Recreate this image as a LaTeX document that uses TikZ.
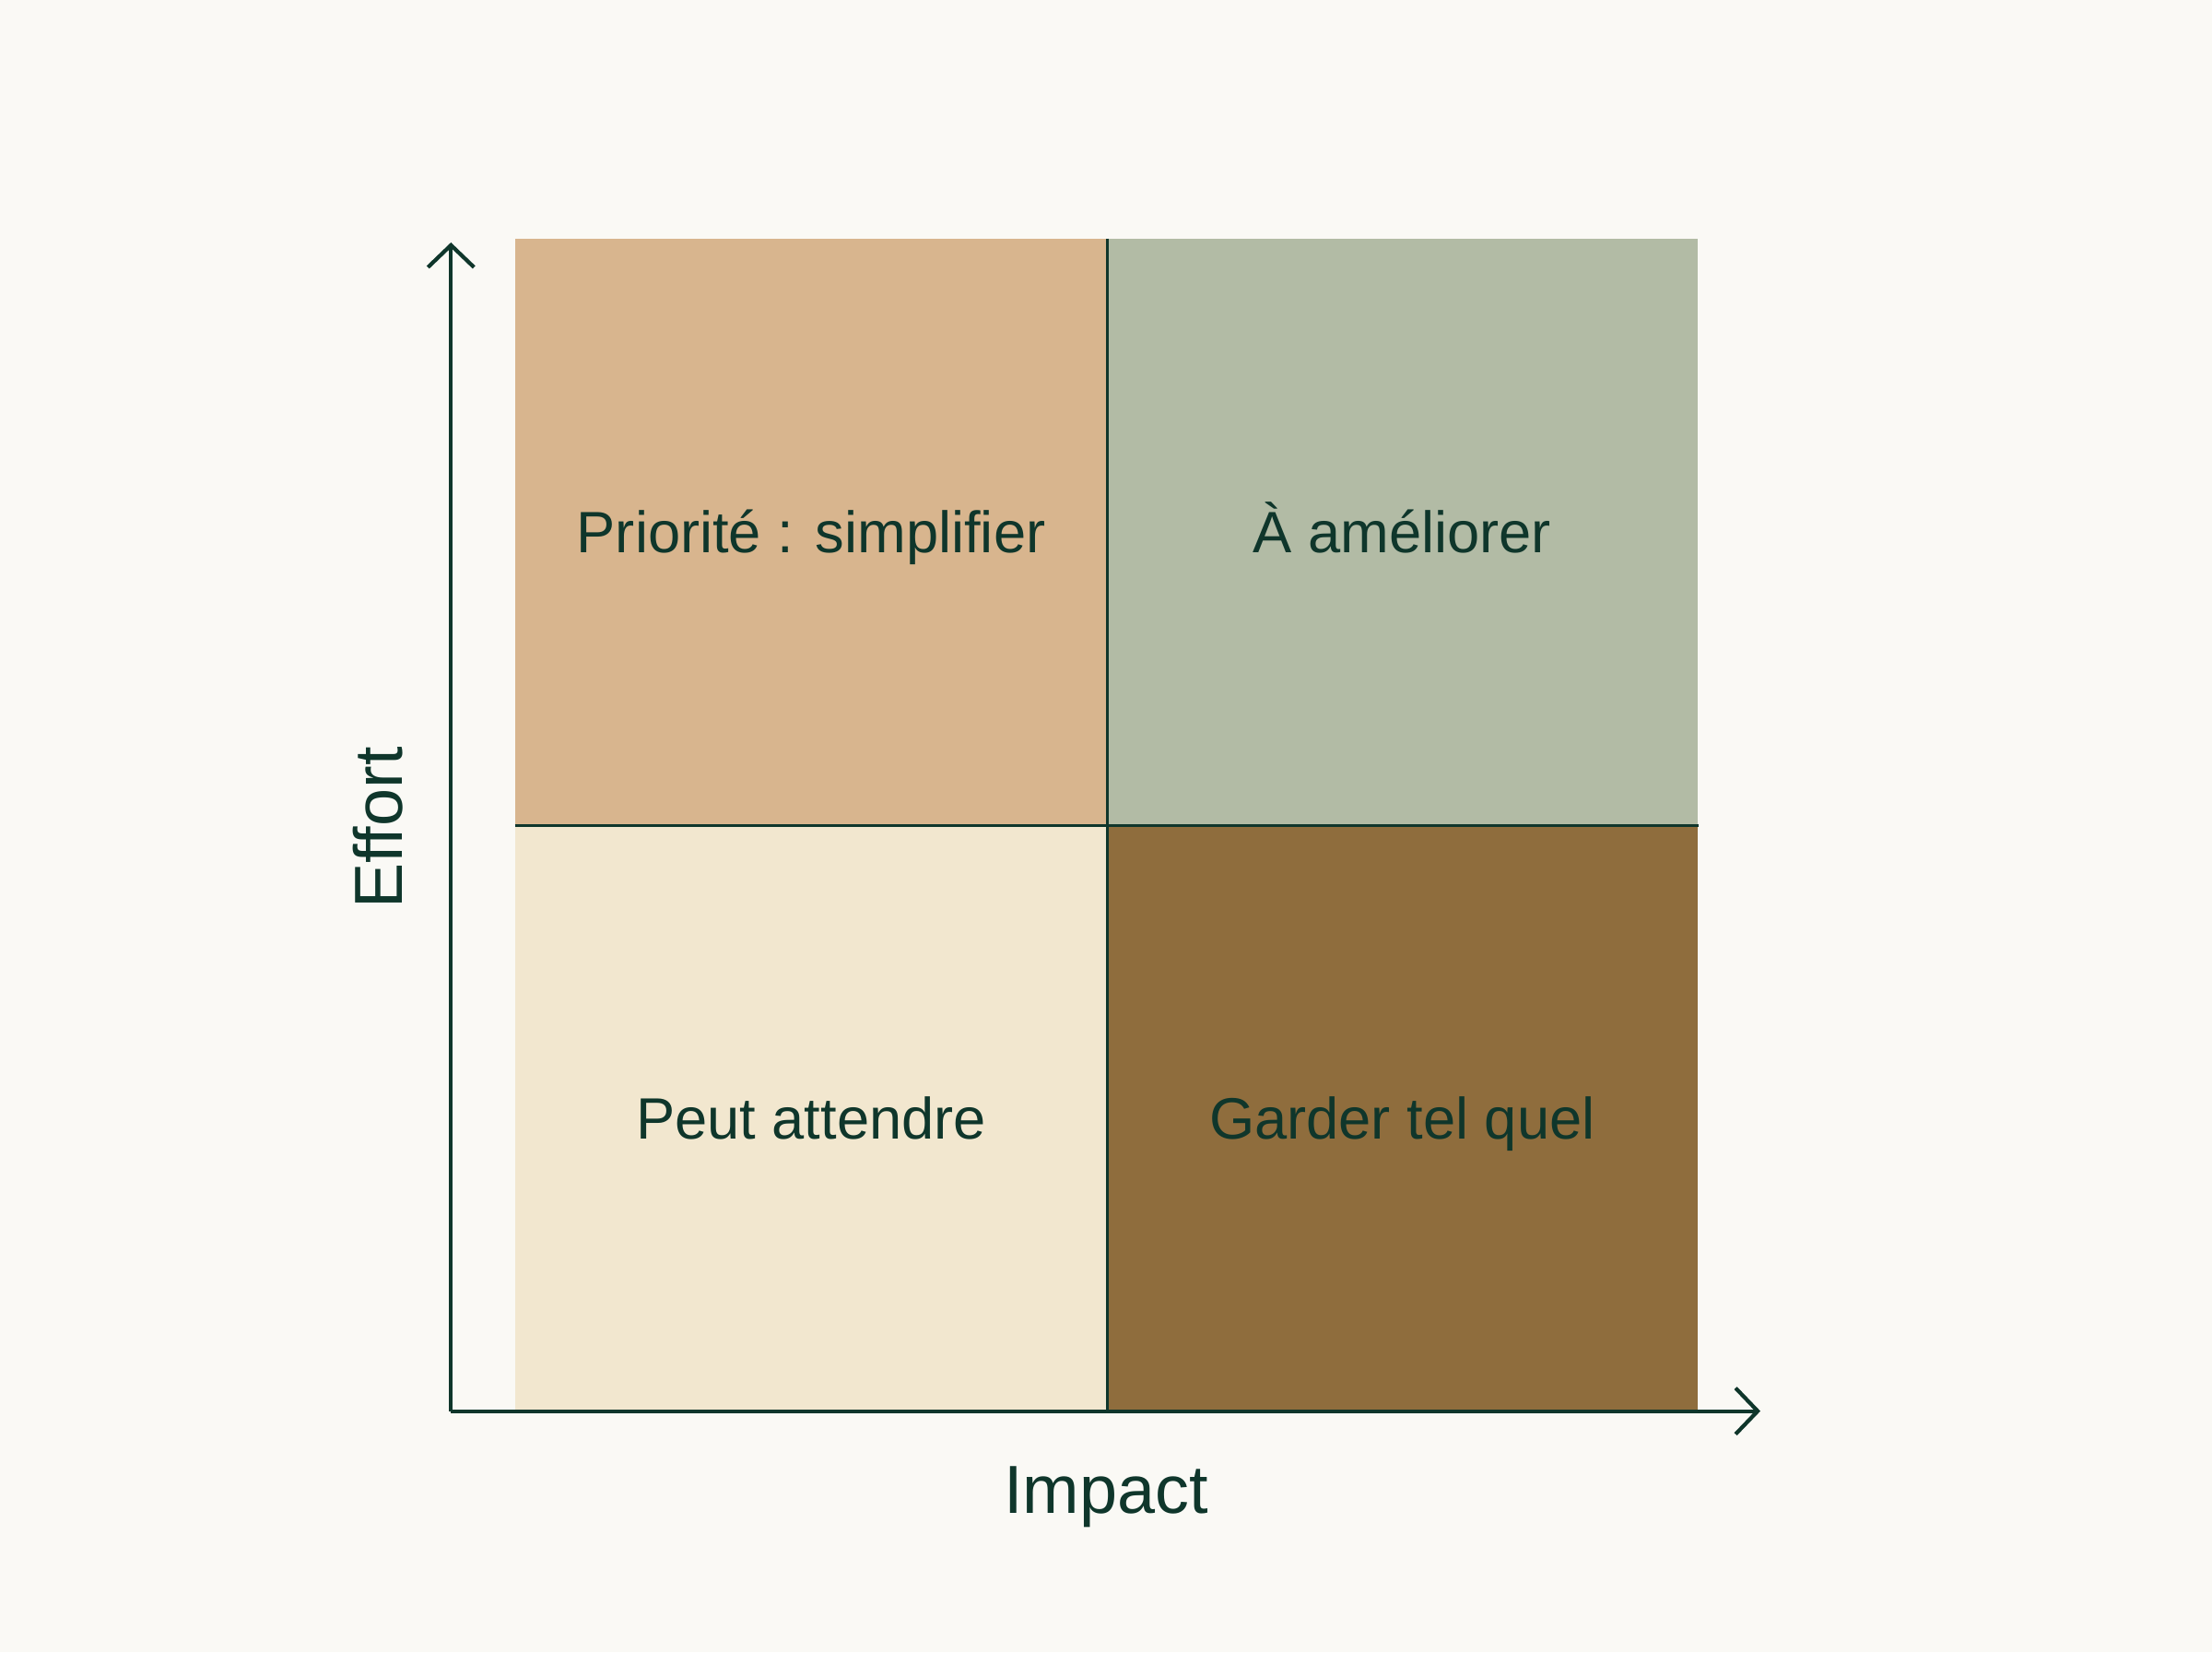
\documentclass[tikz,border=0pt]{standalone}
\usepackage{fontspec}
\setmainfont{Liberation Sans}
\usepackage{tikz}
\usetikzlibrary{arrows.meta}
\definecolor{paper}{HTML}{FAF9F5}
\definecolor{ink}{HTML}{0F362B}
\definecolor{tan}{HTML}{D8B58E}
\definecolor{sage}{HTML}{B2BBA5}
\definecolor{cream}{HTML}{F2E7CF}
\definecolor{umber}{HTML}{8F6D3D}
\tikzstyle{quad}=[rectangle, inner sep=0pt, minimum width=6.413cm, minimum height=6.352cm, text height=13pt, text depth=0pt, text=ink, font=\fontsize{18}{22}\selectfont]
\tikzstyle{axis}=[draw=ink, line width=1.2pt, -{Straight Barb[length=0.24cm, width=0.5cm, line width=1.2pt]}]
\tikzstyle{axislabel}=[text=ink, inner sep=0pt, text height=15.1pt, text depth=0pt, font=\fontsize{21}{25}\selectfont]

\begin{document}
\begin{tikzpicture}
		\fill[paper] (0,0) rectangle (24,17.92);
		\useasboundingbox (0,0) rectangle (24,17.92);
		\node[quad, fill=tan, anchor=south west] (hautgauche) at (5.587,8.966) {Priorité : simplifier};
		\node[quad, fill=sage, anchor=south west] (hautdroite) at (12.0,8.966) {À améliorer};
		\node[quad, fill=cream, anchor=south west] (basgauche) at (5.587,2.614) {Peut attendre};
		\node[quad, fill=umber, anchor=south west] (basdroite) at (12.0,2.614) {Garder tel quel};
		\draw[ink, line width=0.95pt] (hautgauche.north east) -- (basgauche.south east);
		\draw[ink, line width=0.95pt] (hautgauche.south west) -- (hautdroite.south east);
		\coordinate (origine) at (4.893,2.614);
		\coordinate (hauty) at (4.893,15.29);
		\coordinate (droitex) at (19.10,2.614);
		\draw[axis] (origine) -- (hauty);
		\draw[axis] (origine) -- (droitex);
		\node[axislabel, rotate=90] (effort) at (4.10,8.94) {Effort};
		\node[axislabel] (impact) at (12.0,1.772) {Impact};
		\end{tikzpicture}
\end{document}
